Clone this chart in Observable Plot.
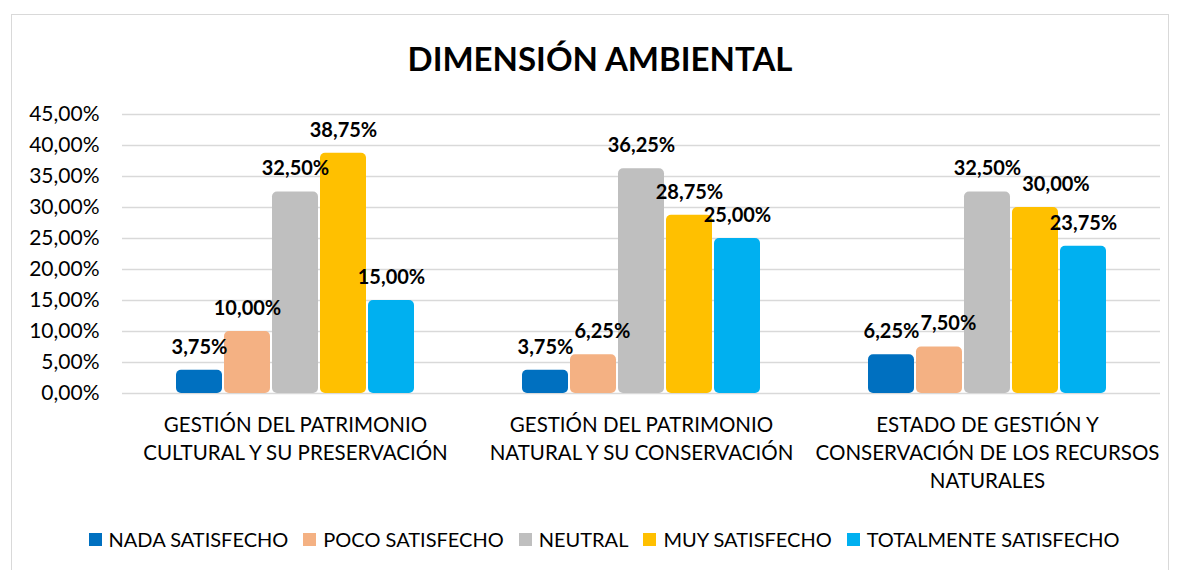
<!DOCTYPE html>
<html><head><meta charset="utf-8">
<script src="https://cdn.jsdelivr.net/npm/d3@7"></script>
<script src="https://cdn.jsdelivr.net/npm/@observablehq/plot@0.6"></script>
<style>
body{margin:0;background:#fff;font-family:Lato, sans-serif;}
#frame{position:absolute;left:11px;top:14px;width:1158px;height:570px;border:1px solid #d9d9d9;box-sizing:border-box}
#title{position:absolute;left:0;width:1200px;top:38px;text-align:center;font-weight:bold;font-size:33px;line-height:40px;color:#000}
#chart{position:absolute;left:0;top:90px}
#legend{position:absolute;top:527px;left:0;width:1208px;display:flex;justify-content:center;font-size:20px;line-height:24px;color:#000}
.item{display:flex;align-items:center;margin:0 7.5px}
.sw{width:13px;height:13px;margin-right:7px}
</style></head><body>
<div id="frame"></div>
<div id="title">DIMENSIÓN AMBIENTAL</div>
<div id="chart"></div>
<div id="legend"></div>
<script>
const categories = [
  "GESTIÓN DEL PATRIMONIO CULTURAL Y SU PRESERVACIÓN",
  "GESTIÓN DEL PATRIMONIO NATURAL Y SU CONSERVACIÓN",
  "ESTADO DE GESTIÓN Y CONSERVACIÓN DE LOS RECURSOS NATURALES"
];
const categoryTickLabels = [
  "GESTIÓN DEL PATRIMONIO\nCULTURAL Y SU PRESERVACIÓN",
  "GESTIÓN DEL PATRIMONIO\nNATURAL Y SU CONSERVACIÓN",
  "ESTADO DE GESTIÓN Y\nCONSERVACIÓN DE LOS RECURSOS\nNATURALES"
];
const seriesNames = ["NADA SATISFECHO","POCO SATISFECHO","NEUTRAL","MUY SATISFECHO","TOTALMENTE SATISFECHO"];
const seriesColors = ["#0070C0","#F4B183","#BFBFBF","#FFC000","#00B0F0"];
const nadaSatisfecho = [0.0375, 0.0375, 0.0625];
const pocoSatisfecho = [0.10, 0.0625, 0.075];
const neutral = [0.325, 0.3625, 0.325];
const muySatisfecho = [0.3875, 0.2875, 0.30];
const totalmenteSatisfecho = [0.15, 0.25, 0.2375];
const yTicks = [0, 0.05, 0.10, 0.15, 0.20, 0.25, 0.30, 0.35, 0.40, 0.45];

const seriesValues = [nadaSatisfecho, pocoSatisfecho, neutral, muySatisfecho, totalmenteSatisfecho];
const rows = categories.flatMap((c, i) => seriesNames.map((s, j) => ({category: c, series: s, value: seriesValues[j][i]})));
const fmt = d => (d * 100).toFixed(2).replace(".", ",") + "%";

const chart = Plot.plot({
  width: 1177, height: 408,
  marginTop: 24, marginLeft: 122, marginRight: 17, marginBottom: 105,
  style: {fontFamily: "Lato, sans-serif", background: "transparent", overflow: "visible", color: "#000"},
  fx: {domain: categories, padding: 0, label: null},
  x: {domain: seriesNames, paddingInner: 0.04, paddingOuter: 0, insetLeft: 52, insetRight: 52, axis: null},
  y: {domain: [0, 0.45], label: null},
  color: {domain: seriesNames, range: seriesColors},
  marks: [
    Plot.gridY(yTicks, {stroke: "#d9d9d9", strokeOpacity: 1, strokeWidth: 1.5}),
    Plot.axisY(yTicks, {tickSize: 0, tickPadding: 23, fontSize: 21, tickFormat: fmt, label: null}),
    Plot.axisFx({anchor: "bottom", tickSize: 0, tickPadding: 18, fontSize: 20.5, lineHeight: 1.38,
      tickFormat: c => categoryTickLabels[categories.indexOf(c)], label: null}),
    Plot.barY(rows, {fx: "category", x: "series", y: "value", fill: "series", rx: 5}),
    Plot.text(rows, {fx: "category", x: "series", y: "value", text: d => fmt(d.value), dy: -23,
      fontWeight: "bold", fontSize: 20, fill: "#000", className: "vlabel"})
  ]
});
document.getElementById("chart").append(chart);

// nudge a value label right when it collides with the previous label of its group
const groups = new Map();
chart.querySelectorAll(".vlabel text").forEach(t => {
  const p = t.parentNode;
  if (!groups.has(p)) groups.set(p, []);
  groups.get(p).push(t);
});
groups.forEach(texts => {
  let prev = null;
  texts.forEach(t => {
    const b = t.getBoundingClientRect();
    const box = {x0: b.left, x1: b.right, y0: b.top + 0.12 * b.height, y1: b.top + 0.92 * b.height};
    if (prev && box.y0 < prev.y1 && box.y1 > prev.y0 && box.x0 < prev.x1 + 1) {
      const shift = prev.x1 + 1 - box.x0;
      const tr = t.getAttribute("transform") || "";
      t.setAttribute("transform", `translate(${shift},0) ` + tr);
      box.x0 += shift; box.x1 += shift;
    }
    prev = box;
  });
});

const legend = document.getElementById("legend");
seriesNames.forEach((s, i) => {
  const it = document.createElement("div"); it.className = "item";
  const sw = document.createElement("span"); sw.className = "sw"; sw.style.background = seriesColors[i];
  const t = document.createElement("span"); t.textContent = s;
  it.append(sw, t); legend.append(it);
});
</script>
</body></html>
